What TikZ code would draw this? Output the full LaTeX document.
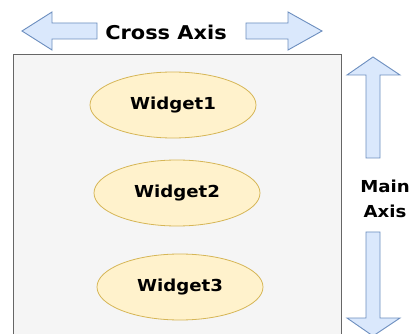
\documentclass[tikz,border=0pt]{standalone}
\usepackage{fontspec}
\setmainfont{DejaVu Sans}[FakeStretch=1.1]
\usetikzlibrary{shapes.geometric}
\definecolor{boxfill}{HTML}{F5F5F5}
\definecolor{boxline}{HTML}{666666}
\definecolor{widgetfill}{HTML}{FFF2CC}
\definecolor{widgetline}{HTML}{D6B656}
\definecolor{arrowfill}{HTML}{DAE8FC}
\definecolor{arrowline}{HTML}{6C8EBF}
\tikzset{
  widget/.style={draw=widgetline, fill=widgetfill, ellipse, line width=0.8pt,
    minimum width=166pt, minimum height=66pt, font=\fontsize{16.5}{18}\selectfont\bfseries},
  axisarrow/.style={draw=arrowline, fill=arrowfill, line width=0.9pt, line join=miter},
  axislabel/.style={font=\fontsize{16.5}{25}\selectfont\bfseries, align=center},
}
\begin{document}
\begin{tikzpicture}[x=1pt,y=-1pt]
\useasboundingbox (0,0) rectangle (410,334);
\clip (0,0) rectangle (410,334);
\path[fill=white] (0,0) rectangle (410,334);
% container
\path[draw=boxline, fill=boxfill, line width=1pt] (13,55) rectangle (341,350);
\node[widget] (w1) at (173,105) {Widget1};
\node[widget] (w2) at (177,193) {Widget2};
\node[widget] (w3) at (180,287) {Widget3};
% cross axis
\node[axislabel, font=\fontsize{19}{20}\selectfont\bfseries] (cross) at (166,32) {Cross Axis};
\foreach \tip/\base/\tail in {22/52/97, 322/288/246}
  \path[axisarrow] (\tip,31) -- (\base,12) -- (\base,23) -- (\tail,23) -- (\tail,39)
    -- (\base,39) -- (\base,50) -- cycle;
% main axis
\foreach \tip/\base/\tail in {57/75/158, 336/318/232}
  \path[axisarrow] (373,\tip) -- (400,\base) -- (380,\base) -- (380,\tail) -- (366,\tail)
    -- (366,\base) -- (347,\base) -- cycle;
\node[axislabel] (main) at (385,199) {Main\\Axis};
\end{tikzpicture}
\end{document}
